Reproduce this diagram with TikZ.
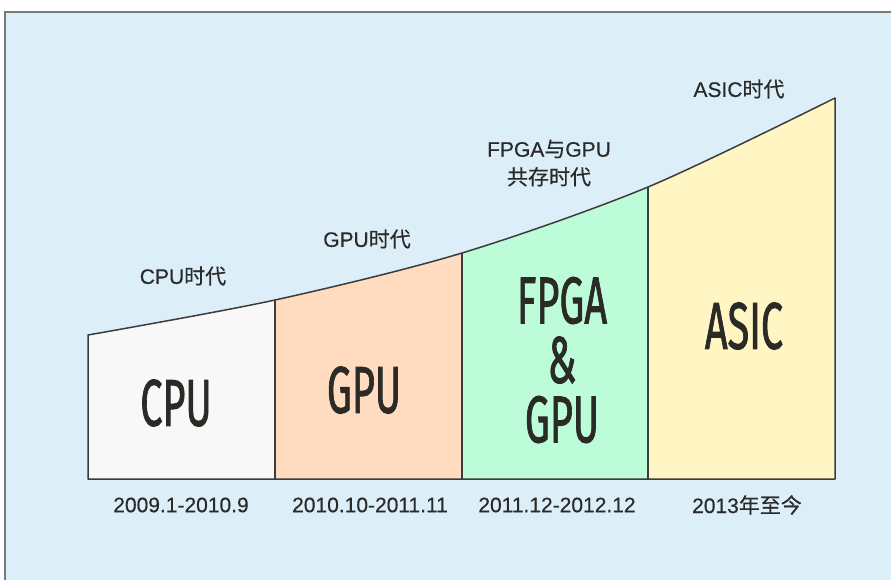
\documentclass[tikz,border=0pt]{standalone}
\usepackage{fontspec}
\setmainfont{Liberation Sans}[FakeBold=0.4]
\newfontfamily\cjk{Noto Sans CJK SC}[FakeBold=0.4]
\newfontfamily\chipfont{Fira Sans}[FakeBold=1.6]
\usetikzlibrary{positioning,calc}
\definecolor{bgblue}{HTML}{DCEFF8}
\definecolor{framegray}{HTML}{7A7A7A}
\definecolor{edgegray}{HTML}{3C3C3C}
\definecolor{cpufill}{HTML}{F8F8F8}
\definecolor{gpufill}{HTML}{FFDCC0}
\definecolor{fpgafill}{HTML}{BDFCD9}
\definecolor{asicfill}{HTML}{FFF6C4}
\definecolor{labeltext}{HTML}{2A2A2A}
\definecolor{chiptext}{HTML}{2A2A26}
\newcommand{\narrow}[1]{\scalebox{0.6}[1]{#1}}
\tikzset{
  era/.style={font=\fontsize{21}{28}\selectfont, text=labeltext, align=center, inner sep=0pt},
  period/.style={font=\fontsize{21}{28}\selectfont, text=labeltext, inner sep=0pt},
  chip/.style={font=\chipfont\fontsize{66}{59.5}\selectfont, text=chiptext, align=center, inner sep=0pt},
  column/.style={draw=edgegray, line width=1.5pt, line join=round},
  frame/.style={draw=framegray, line width=2pt}
}
\begin{document}
\begin{tikzpicture}[x=1pt,y=-1pt]
  \useasboundingbox (0,0) rectangle (891,580);
  \fill[white] (0,0) rectangle (891,580);
  \draw[frame, fill=bgblue] (5,12) rectangle (900,590);

  % top of the columns and the base line
  \coordinate (t0) at (88,335);
  \coordinate (t1) at (275,300);
  \coordinate (t2) at (462,253);
  \coordinate (t3) at (648,187);
  \coordinate (t4) at (835,98);
  \foreach \i/\x in {0/88,1/275,2/462,3/648,4/835}
    \coordinate (b\i) at (\x,479);

  \begin{scope}
    \clip plot[smooth] coordinates {(t0) (t1) (t2) (t3) (t4)} -- (b4) -- (b0) -- cycle;
    \fill[cpufill] (b0) rectangle (275,0);
    \fill[gpufill] (b1) rectangle (462,0);
    \fill[fpgafill] (b2) rectangle (648,0);
    \fill[asicfill] (b3) rectangle (835,0);
  \end{scope}
  \draw[column] plot[smooth] coordinates {(t0) (t1) (t2) (t3) (t4)} -- (b4) -- (b0) -- cycle;
  \foreach \i in {1,2,3}
    \draw[column] (b\i) -- (t\i);

  \node[chip] (cpu) at (176,403) {\narrow{CPU}};
  \node[chip] (gpu) at (364,390) {\narrow{GPU}};
  \node[chip] (fpga) at (562,360) {\narrow{FPGA}\\\narrow{\&}\\\narrow{GPU}};
  \node[chip] (asic) at (744,326) {\narrow{ASIC}};

  \node[era] (cpuera) at (183,276) {CPU{\cjk 时代}};
  \node[era] (gpuera) at (367,239) {GPU{\cjk 时代}};
  \node[era] (mixera) at (549,163) {FPGA{\cjk 与}GPU\\{\cjk 共存时代}};
  \node[era] (asicera) at (739,89) {ASIC{\cjk 时代}};

  \node[period] (cpudate) at (181,505) {2009.1-2010.9};
  \node[period] (gpudate) at (370,505) {2010.10-2011.11};
  \node[period] (mixdate) at (557,505) {2011.12-2012.12};
  \node[period] (asicdate) at (747,505) {2013{\cjk 年至今}};
\end{tikzpicture}
\end{document}
